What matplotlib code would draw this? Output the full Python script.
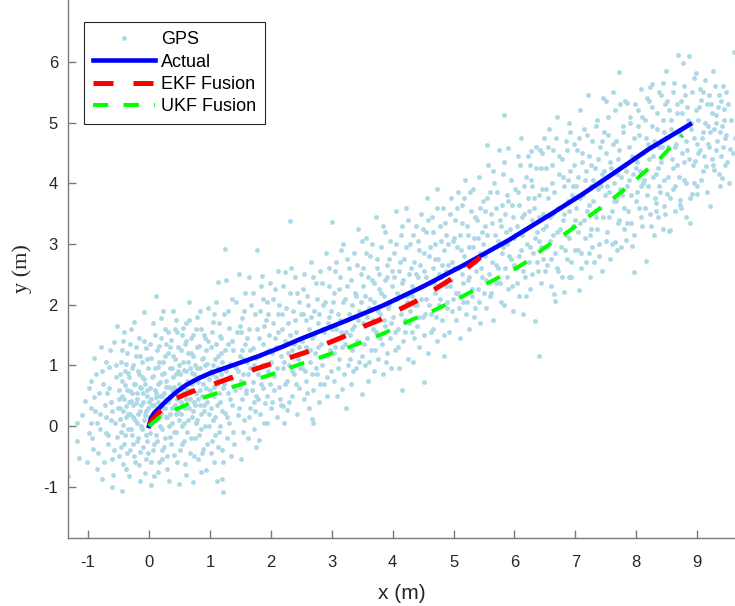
import matplotlib.pyplot as plt

plt.rcParams['font.family'] = ['Liberation Sans', 'DejaVu Sans']
plt.rcParams['axes.unicode_minus'] = False

gps_pts = [
    # x < -0.5
    (-1.33, -0.83), (-1.18, 0.05), (-1.19, -0.24), (-1.15, -0.53), (-1.10, 0.18),
    (-1.05, 0.42), (-0.98, -0.12), (-0.95, 0.75), (-0.92, -0.38), (-0.90, 1.12),
    (-0.88, 0.25), (-0.85, -0.70), (-0.82, 0.55), (-0.80, -0.05), (-0.78, 0.90),
    (-0.78, -0.87), (-0.72, 0.35), (-0.70, 1.05), (-0.68, -0.30), (-0.65, 0.62),
    (-0.62, 0.10), (-0.60, -0.55), (-0.58, 1.38), (-0.55, 0.80), (-0.53, -0.18),
    (-0.52, 1.65), (-0.50, 0.45), (-0.61, -1.01), (-0.60, 0.25), (-0.85, 0.05),
    (-0.95, 0.30), (-0.70, -0.12), (-0.66, 0.98), (-0.57, -0.40), (-0.45, -1.07),
    (-1.02, -0.60), (-0.99, 0.62), (-0.96, 0.05), (-0.93, -0.20), (-0.91, 0.48),
    (-0.87, 0.85), (-0.84, -0.45), (-0.81, 0.20), (-0.79, 1.30), (-0.76, 0.70),
    (-0.74, -0.60), (-0.71, 0.15), (-0.69, 0.55), (-0.67, -0.15), (-0.64, 1.25),
    (-0.63, 0.40), (-0.59, -0.80), (-0.56, 0.05), (-0.54, 1.00), (-0.51, 0.30),
    # -0.5 .. 0
    (-0.48, 0.12), (-0.47, 0.85), (-0.46, -0.35), (-0.45, 1.25), (-0.44, 0.50),
    (-0.43, -0.62), (-0.42, 0.02), (-0.41, 1.55), (-0.40, 0.68), (-0.39, -0.15),
    (-0.38, 0.33), (-0.37, 1.02), (-0.36, -0.45), (-0.35, 0.88), (-0.34, 0.20),
    (-0.33, -0.82), (-0.32, 0.58), (-0.31, 1.35), (-0.30, -0.05), (-0.29, 0.42),
    (-0.28, 0.95), (-0.27, -0.30), (-0.26, 0.15), (-0.25, 1.72), (-0.24, 0.70),
    (-0.23, -0.60), (-0.22, 0.38), (-0.21, 1.15), (-0.20, 0.05), (-0.19, 0.55),
    (-0.18, -0.20), (-0.17, 0.85), (-0.16, 1.45), (-0.15, 0.25), (-0.14, -0.42),
    (-0.13, 0.62), (-0.12, 1.05), (-0.11, -0.05), (-0.10, 0.40), (-0.09, 1.88),
    (-0.08, 0.78), (-0.07, -0.77), (-0.06, 0.18), (-0.05, 1.28), (-0.04, 0.50),
    (-0.03, -0.25), (-0.02, 0.95), (-0.01, 0.30), (-0.05, -0.55), (-0.15, -0.90),
    (-0.495, 0.60), (-0.485, -0.50), (-0.475, 0.30), (-0.465, 1.05), (-0.455, -0.10),
    (-0.445, 0.75), (-0.435, 0.25), (-0.425, 1.40), (-0.415, -0.30), (-0.405, 0.45),
    (-0.395, 0.90), (-0.385, -0.70), (-0.375, 0.15), (-0.365, 0.60), (-0.355, 1.20),
    (-0.345, -0.05), (-0.335, 0.40), (-0.325, 0.80), (-0.315, -0.40), (-0.305, 0.20),
    (-0.295, 1.60), (-0.285, 0.55), (-0.275, -0.15), (-0.265, 1.00), (-0.255, 0.35),
    (-0.245, -0.50), (-0.235, 0.70), (-0.225, 0.10), (-0.215, 1.30), (-0.205, -0.25),
    (-0.195, 0.45), (-0.185, 0.90), (-0.175, 0.20), (-0.165, -0.65), (-0.155, 0.65),
    (-0.145, 1.15), (-0.135, 0.00), (-0.125, 0.35), (-0.115, 0.80), (-0.105, -0.35),
    (-0.095, 0.55), (-0.085, 1.40), (-0.075, 0.10), (-0.065, 0.70), (-0.055, -0.15),
    (-0.045, 0.25), (-0.035, 1.10), (-0.025, 0.60), (-0.015, -0.45), (-0.005, 0.40),
    # 0 .. 0.5
    (0.01, 0.62), (0.02, -0.12), (0.03, -0.97), (0.04, 1.12), (0.05, 0.35),
    (0.06, -0.40), (0.07, 0.82), (0.08, -0.82), (0.09, 1.50), (0.10, 0.10),
    (0.11, 0.55), (0.12, 2.15), (0.13, -0.25), (0.14, 0.98), (0.15, 0.40),
    (0.16, 1.32), (0.17, -0.60), (0.18, 0.72), (0.19, 0.20), (0.20, 1.78),
    (0.21, -0.05), (0.22, 0.50), (0.23, 1.05), (0.24, -0.35), (0.25, 0.88),
    (0.26, 0.30), (0.27, 1.60), (0.28, 0.65), (0.29, -0.70), (0.30, 0.15),
    (0.31, 1.20), (0.32, -0.91), (0.33, 0.45), (0.34, 0.95), (0.35, -0.18),
    (0.36, 1.42), (0.37, 0.60), (0.38, 0.05), (0.39, 1.90), (0.40, 0.80),
    (0.41, -0.48), (0.42, 0.35), (0.43, 1.10), (0.44, 0.55), (0.45, -0.10),
    (0.46, 1.55), (0.47, 0.25), (0.48, 0.90), (0.49, -0.96), (0.50, 0.70),
    (0.22, -0.55), (0.35, 0.20), (0.12, 0.48), (0.44, 1.75), (0.28, 1.35),
    (0.005, 0.15), (0.015, 1.35), (0.025, 0.45), (0.035, -0.60), (0.045, 0.80),
    (0.055, 0.05), (0.065, 1.70), (0.075, 0.35), (0.085, -0.30), (0.095, 0.95),
    (0.105, 0.60), (0.115, -0.15), (0.125, 1.25), (0.135, 0.25), (0.145, -0.75),
    (0.155, 0.70), (0.165, 1.05), (0.175, 0.00), (0.185, 0.50), (0.195, 1.45),
    (0.205, -0.40), (0.215, 0.85), (0.225, 0.30), (0.235, 1.90), (0.245, 0.55),
    (0.255, -0.20), (0.265, 1.15), (0.275, 0.15), (0.285, 0.75), (0.295, -0.50),
    (0.305, 0.40), (0.315, 1.55), (0.325, 0.65), (0.335, 0.00), (0.345, 1.30),
    (0.355, 0.50), (0.365, -0.30), (0.375, 0.95), (0.385, 0.30), (0.395, 1.15),
    (0.405, -0.10), (0.415, 0.65), (0.425, 1.60), (0.435, 0.20), (0.445, 0.85),
    (0.455, -0.60), (0.465, 0.45), (0.475, 1.30), (0.485, 0.10), (0.495, 1.00),
    # 0.5 .. 1
    (0.52, 0.20), (0.53, 1.25), (0.54, -0.30), (0.55, 0.65), (0.56, 1.62),
    (0.57, 0.05), (0.58, 0.92), (0.59, -0.62), (0.60, 0.45), (0.61, 1.40),
    (0.62, 0.75), (0.63, -0.10), (0.64, 1.05), (0.65, 0.30), (0.66, 2.05),
    (0.67, -0.45), (0.68, 0.60), (0.69, 1.20), (0.70, 0.15), (0.71, 0.88),
    (0.72, -0.92), (0.73, 1.50), (0.74, 0.40), (0.75, -0.20), (0.76, 1.00),
    (0.77, 0.55), (0.78, 1.80), (0.79, 0.10), (0.80, 0.72), (0.81, -0.55),
    (0.82, 1.32), (0.83, 0.35), (0.84, 0.95), (0.85, -0.05), (0.86, 1.60),
    (0.87, 0.50), (0.88, 1.12), (0.89, -0.38), (0.90, 0.82), (0.91, 0.25),
    (0.92, 1.45), (0.93, 0.62), (0.94, -0.72), (0.95, 1.02), (0.96, 0.40),
    (0.97, 1.95), (0.98, 0.00), (0.99, 0.78), (0.60, 1.70), (0.85, -0.75),
    (0.505, -0.40), (0.515, 0.85), (0.525, 0.40), (0.535, 1.50), (0.545, 0.00),
    (0.555, 1.05), (0.565, 0.55), (0.575, -0.25), (0.585, 1.35), (0.595, 0.30),
    (0.605, 0.90), (0.615, -0.80), (0.625, 0.60), (0.635, 1.20), (0.645, 0.10),
    (0.655, 1.75), (0.665, 0.45), (0.675, 0.95), (0.685, -0.20), (0.695, 1.45),
    (0.705, 0.70), (0.715, 0.25), (0.725, 1.15), (0.735, -0.50), (0.745, 0.85),
    (0.755, 0.35), (0.765, 1.60), (0.775, 0.05), (0.785, 0.95), (0.795, 1.30),
    (0.805, 0.45), (0.815, -0.15), (0.825, 0.80), (0.835, 1.90), (0.845, 0.60),
    (0.855, 0.20), (0.865, 1.10), (0.875, -0.45), (0.885, 0.70), (0.895, 1.50),
    (0.905, 0.35), (0.915, 1.00), (0.925, 0.00), (0.935, 1.25), (0.945, 0.50),
    (0.955, -0.30), (0.965, 0.85), (0.975, 1.40), (0.985, 0.20), (0.995, 0.60),
    # 1 .. 1.5
    (1.01, 0.30), (1.02, 1.30), (1.03, -0.25), (1.04, 0.85), (1.05, 1.72),
    (1.06, 0.50), (1.07, -0.60), (1.08, 1.10), (1.09, 0.15), (1.10, 2.05),
    (1.11, -0.91), (1.12, 0.70), (1.13, 2.38), (1.14, 0.95), (1.15, -0.10),
    (1.16, 1.48), (1.17, 0.40), (1.18, 1.20), (1.19, -0.40), (1.20, -0.88),
    (1.21, 0.62), (1.22, -1.08), (1.23, 1.85), (1.24, 0.22), (1.25, 2.92),
    (1.26, 2.40), (1.27, 0.90), (1.28, -0.20), (1.29, 1.35), (1.30, 0.55),
    (1.31, 1.62), (1.32, 0.05), (1.33, 1.02), (1.34, -0.50), (1.35, 0.78),
    (1.36, 2.10), (1.37, 0.35), (1.38, 1.25), (1.40, -0.30), (1.42, 0.95),
    (1.44, 1.55), (1.46, 0.18), (1.48, 2.51), (1.49, 0.65), (1.50, 1.15),
    (1.015, 0.90), (1.025, -0.45), (1.035, 1.55), (1.045, 0.10), (1.055, 1.00),
    (1.065, 0.65), (1.075, 1.85), (1.085, -0.15), (1.095, 0.80), (1.105, 1.35),
    (1.115, 0.35), (1.125, -0.35), (1.135, 1.15), (1.145, 0.55), (1.155, 1.70),
    (1.165, 0.00), (1.175, 0.85), (1.185, 1.45), (1.195, 0.25), (1.205, 1.05),
    (1.215, -0.60), (1.235, 0.70), (1.255, 1.25), (1.275, 0.15), (1.295, 1.90),
    (1.315, 0.80), (1.335, 0.45), (1.355, 1.40), (1.375, -0.10), (1.395, 1.00),
    (1.415, 0.60), (1.435, 2.05), (1.455, 0.90), (1.475, 0.30), (1.495, 1.65),
    # 1.5 .. 2
    (1.51, -0.54), (1.52, 0.45), (1.53, 1.78), (1.54, 0.85), (1.56, 0.10),
    (1.57, 1.35), (1.58, 2.20), (1.60, 0.60), (1.61, 1.05), (1.62, -0.20),
    (1.64, 1.60), (1.65, 0.30), (1.66, 0.95), (1.68, 2.00), (1.70, 0.72),
    (1.71, 1.28), (1.72, -0.05), (1.74, 1.85), (1.75, 0.50), (1.76, 1.12),
    (1.78, 2.90), (1.79, 0.85), (1.80, -0.23), (1.81, 1.45), (1.83, 0.20),
    (1.84, 2.30), (1.85, 1.00), (1.86, 2.47), (1.87, 0.62), (1.89, 1.65),
    (1.90, 0.38), (1.92, 1.22), (1.93, 2.05), (1.94, 0.05), (1.96, 0.90),
    (1.97, 1.50), (1.99, 0.70), (1.55, 1.10), (1.73, 0.40), (1.95, 1.85),
    (1.505, 0.75), (1.525, 1.25), (1.545, -0.10), (1.565, 1.90), (1.585, 0.55),
    (1.605, 1.45), (1.625, 0.85), (1.645, 0.15), (1.665, 1.25), (1.685, 0.60),
    (1.705, 2.20), (1.725, 1.00), (1.745, 0.25), (1.765, 1.60), (1.785, 0.45),
    (1.805, 1.15), (1.825, 1.90), (1.845, 0.70), (1.865, 1.35), (1.885, 0.05),
    (1.905, 1.00), (1.925, 1.75), (1.945, 0.50), (1.965, 1.25), (1.985, 2.35),
    (1.515, 1.55), (1.635, 2.45), (1.755, -0.35), (1.875, 2.10), (1.995, 0.30),
    # 2 .. 2.5
    (2.01, 1.05), (2.02, 0.40), (2.04, 1.70), (2.05, 0.82), (2.07, 2.25),
    (2.08, 1.30), (2.10, 0.15), (2.11, 1.55), (2.13, 0.65), (2.14, 2.00),
    (2.16, 1.15), (2.17, 0.35), (2.19, 1.85), (2.20, 0.95), (2.22, 0.05),
    (2.23, 2.53), (2.24, 1.40), (2.26, 0.75), (2.27, 0.26), (2.28, 1.70),
    (2.30, 1.00), (2.31, 3.38), (2.32, 2.20), (2.34, 0.50), (2.35, 1.25),
    (2.37, 1.90), (2.38, 0.85), (2.40, 2.45), (2.41, 1.55), (2.43, 0.20),
    (2.44, 1.10), (2.46, 2.05), (2.47, 0.62), (2.49, 1.42), (2.12, 2.55),
    (2.20, 0.33),
    (2.015, 1.20), (2.035, 2.10), (2.055, 0.60), (2.075, 1.45), (2.095, 0.95),
    (2.115, 1.85), (2.135, 1.30), (2.155, 0.45), (2.175, 1.60), (2.195, 2.30),
    (2.215, 1.05), (2.235, 0.70), (2.255, 1.95), (2.275, 1.20), (2.295, 0.40),
    (2.315, 1.50), (2.335, 2.60), (2.355, 0.90), (2.375, 1.35), (2.395, 1.75),
    (2.415, 0.70), (2.435, 2.20), (2.455, 1.30), (2.475, 0.95), (2.495, 1.85),
    # 2.5 .. 3
    (2.51, 0.95), (2.52, 1.85), (2.54, 0.45), (2.55, 2.50), (2.57, 1.30),
    (2.58, 0.75), (2.60, 2.15), (2.62, 1.60), (2.63, 0.30), (2.65, 1.05),
    (2.66, 2.70), (2.68, 1.45), (2.70, 0.60), (2.71, 1.90), (2.73, 1.20),
    (2.74, 2.35), (2.76, 0.85), (2.78, 1.70), (2.79, 0.40), (2.81, 2.55),
    (2.82, 1.35), (2.84, 1.00), (2.85, 2.00), (2.87, 0.70), (2.88, 1.55),
    (2.90, 2.85), (2.92, 1.15), (2.93, 0.50), (2.95, 1.80), (2.96, 2.30),
    (2.98, 1.40), (2.99, 0.90), (2.68, 0.12), (2.69, 0.05),
    (2.515, 1.40), (2.535, 2.25), (2.555, 0.90), (2.575, 1.75), (2.595, 0.55),
    (2.615, 2.00), (2.635, 1.25), (2.655, 1.80), (2.675, 0.85), (2.695, 2.45),
    (2.715, 1.50), (2.735, 0.95), (2.755, 2.10), (2.775, 1.30), (2.795, 1.85),
    (2.815, 0.70), (2.835, 2.35), (2.855, 1.60), (2.875, 1.15), (2.895, 2.05),
    (2.915, 0.80), (2.935, 1.70), (2.955, 2.60), (2.975, 1.25), (2.995, 1.90),
    # 3 .. 3.5
    (3.00, 3.37), (3.01, 1.60), (3.03, 0.75), (3.04, 2.20), (3.06, 1.30),
    (3.07, 2.70), (3.09, 0.50), (3.10, 1.85), (3.12, 1.10), (3.13, 2.45),
    (3.15, 1.55), (3.16, 0.61), (3.18, 2.05), (3.19, 3.00), (3.21, 1.35),
    (3.24, 0.30), (3.24, 1.75), (3.25, 2.30), (3.27, 1.00), (3.28, 2.60),
    (3.30, 1.50), (3.31, 0.70), (3.33, 2.00), (3.34, 1.25), (3.36, 2.85),
    (3.37, 1.65), (3.39, 0.95), (3.40, 2.15), (3.42, 1.40), (3.43, 3.25),
    (3.45, 1.90), (3.49, 0.53), (3.48, 2.50), (3.49, 1.15),
    (3.015, 2.05), (3.035, 1.20), (3.055, 2.55), (3.075, 1.60), (3.095, 0.95),
    (3.115, 2.25), (3.135, 1.75), (3.155, 2.90), (3.175, 1.30), (3.195, 0.85),
    (3.215, 2.10), (3.235, 1.55), (3.255, 2.75), (3.275, 1.85), (3.295, 1.10),
    (3.315, 2.40), (3.335, 1.60), (3.355, 0.90), (3.375, 2.20), (3.395, 1.35),
    (3.415, 2.65), (3.435, 1.75), (3.455, 1.05), (3.475, 2.05), (3.495, 3.05),
    # 3.5 .. 4
    (3.51, 1.70), (3.52, 2.60), (3.54, 1.00), (3.55, 2.15), (3.57, 3.10),
    (3.58, 1.45), (3.60, 0.75), (3.61, 1.95), (3.63, 2.80), (3.64, 1.25),
    (3.66, 2.40), (3.67, 1.75), (3.69, 0.90), (3.70, 2.05), (3.72, 3.45),
    (3.73, 1.55), (3.75, 2.60), (3.76, 1.10), (3.78, 2.25), (3.79, 1.85),
    (3.81, 2.95), (3.82, 1.35), (3.84, 0.85), (3.85, 2.15), (3.87, 1.65),
    (3.88, 3.20), (3.90, 2.45), (3.91, 1.20), (3.93, 1.95), (3.94, 2.75),
    (3.96, 1.45), (3.97, 0.95), (3.99, 2.30),
    (3.515, 2.30), (3.535, 1.35), (3.555, 2.85), (3.575, 1.80), (3.595, 2.45),
    (3.615, 1.05), (3.635, 2.10), (3.655, 3.00), (3.675, 1.60), (3.695, 2.35),
    (3.715, 1.25), (3.735, 2.75), (3.755, 1.90), (3.775, 2.50), (3.795, 1.45),
    (3.815, 2.20), (3.835, 3.30), (3.855, 1.75), (3.875, 2.40), (3.895, 1.05),
    (3.915, 2.65), (3.935, 2.00), (3.955, 3.05), (3.975, 1.70), (3.995, 2.55),
    # 4 .. 4.5
    (4.01, 1.80), (4.02, 2.85), (4.04, 1.25), (4.05, 3.55), (4.07, 2.10),
    (4.08, 1.60), (4.10, 2.55), (4.11, 0.95), (4.13, 1.95), (4.14, 3.15),
    (4.16, 0.59), (4.16, 2.35), (4.17, 1.40), (4.19, 2.75), (4.20, 1.75),
    (4.22, 3.60), (4.23, 2.15), (4.25, 1.10), (4.26, 2.50), (4.28, 1.90),
    (4.29, 3.00), (4.31, 1.55), (4.32, 2.30), (4.34, 1.05), (4.35, 2.70),
    (4.37, 2.00), (4.38, 3.30), (4.40, 1.65), (4.41, 2.45), (4.43, 1.30),
    (4.44, 2.90), (4.46, 2.10), (4.47, 3.50), (4.49, 1.80),
    (4.015, 2.45), (4.035, 1.55), (4.055, 3.00), (4.075, 2.20), (4.095, 1.30),
    (4.115, 2.70), (4.135, 1.85), (4.155, 3.30), (4.175, 2.40), (4.195, 1.55),
    (4.215, 2.95), (4.235, 2.05), (4.255, 3.40), (4.275, 1.70), (4.295, 2.60),
    (4.315, 2.15), (4.335, 3.15), (4.355, 1.45), (4.375, 2.50), (4.395, 2.00),
    (4.415, 3.05), (4.435, 1.80), (4.455, 2.65), (4.475, 2.30), (4.495, 3.25),
    # 4.5 .. 5
    (4.51, 0.73), (4.51, 2.55), (4.52, 1.50), (4.54, 3.20), (4.55, 2.10),
    (4.57, 3.75), (4.58, 1.20), (4.60, 2.80), (4.61, 2.35), (4.63, 1.85),
    (4.64, 3.45), (4.66, 2.60), (4.67, 1.60), (4.69, 3.00), (4.70, 2.20),
    (4.72, 3.90), (4.73, 1.40), (4.75, 2.75), (4.76, 2.00), (4.78, 3.30),
    (4.79, 2.45), (4.81, 1.75), (4.82, 3.60), (4.84, 2.90), (4.85, 1.15),
    (4.87, 2.30), (4.88, 3.15), (4.90, 2.05), (4.91, 2.65), (4.93, 1.55),
    (4.94, 3.50), (4.96, 2.40), (4.97, 1.90), (4.99, 3.05),
    (4.515, 2.85), (4.535, 1.85), (4.555, 2.45), (4.575, 3.40), (4.595, 2.00),
    (4.615, 2.95), (4.635, 1.55), (4.655, 3.20), (4.675, 2.35), (4.695, 2.75),
    (4.715, 1.80), (4.735, 3.60), (4.755, 2.50), (4.775, 2.10), (4.795, 3.05),
    (4.815, 2.65), (4.835, 1.50), (4.855, 3.35), (4.875, 2.55), (4.895, 1.95),
    (4.915, 3.00), (4.935, 2.30), (4.955, 3.75), (4.975, 2.70), (4.995, 2.10),
    # 5 .. 5.5
    (5.01, 2.60), (5.02, 3.40), (5.04, 1.75), (5.05, 2.95), (5.07, 3.85),
    (5.08, 2.20), (5.10, 1.45), (5.11, 3.15), (5.13, 2.50), (5.14, 3.65),
    (5.16, 2.05), (5.17, 2.80), (5.19, 4.05), (5.20, 1.85), (5.22, 3.30),
    (5.23, 2.40), (5.25, 2.95), (5.26, 1.60), (5.28, 3.55), (5.29, 2.70),
    (5.31, 2.15), (5.32, 3.90), (5.34, 3.10), (5.35, 1.95), (5.37, 2.55),
    (5.38, 3.40), (5.40, 2.25), (5.41, 4.10), (5.43, 2.85), (5.44, 1.70),
    (5.46, 3.20), (5.47, 2.45), (5.49, 3.70),
    (5.015, 3.10), (5.035, 2.20), (5.055, 3.60), (5.075, 2.60), (5.095, 1.95),
    (5.115, 2.90), (5.135, 3.35), (5.155, 2.35), (5.175, 3.75), (5.195, 2.65),
    (5.215, 2.05), (5.235, 3.15), (5.255, 2.45), (5.275, 3.85), (5.295, 2.25),
    (5.315, 2.95), (5.335, 1.80), (5.355, 3.45), (5.375, 2.70), (5.395, 3.10),
    (5.415, 2.05), (5.435, 3.60), (5.455, 2.60), (5.475, 3.00), (5.495, 2.20),
    # 5.5 .. 6
    (5.51, 2.80), (5.52, 3.55), (5.54, 1.95), (5.55, 3.15), (5.57, 4.30),
    (5.58, 2.50), (5.60, 3.85), (5.61, 2.20), (5.63, 3.35), (5.64, 1.75),
    (5.66, 2.95), (5.67, 4.00), (5.69, 2.65), (5.70, 3.60), (5.55, 4.63),
    (5.73, 3.05), (5.75, 4.55), (5.76, 2.35), (5.78, 3.30), (5.79, 2.85),
    (5.81, 4.15), (5.82, 5.13), (5.84, 3.50), (5.85, 2.60), (5.87, 3.80),
    (5.88, 3.00), (5.90, 2.25), (5.90, 4.58), (5.93, 3.25), (5.94, 2.75),
    (5.96, 3.65), (5.97, 1.90), (5.99, 3.10), (5.82, 2.00),
    (5.515, 3.30), (5.535, 2.40), (5.555, 3.75), (5.575, 2.90), (5.595, 2.15),
    (5.615, 3.50), (5.635, 2.70), (5.655, 4.20), (5.675, 3.15), (5.695, 2.35),
    (5.715, 3.85), (5.735, 2.60), (5.755, 3.40), (5.775, 2.05), (5.795, 3.65),
    (5.815, 2.95), (5.835, 4.35), (5.855, 3.20), (5.875, 2.45), (5.895, 3.70),
    (5.915, 2.80), (5.935, 4.05), (5.955, 2.30), (5.975, 3.45), (5.995, 2.65),
    # 6 .. 6.5
    (6.01, 3.90), (6.02, 2.60), (6.04, 3.30), (6.05, 4.45), (6.07, 2.15),
    (6.08, 3.65), (6.10, 2.90), (6.11, 4.75), (6.13, 3.15), (6.14, 1.85),
    (6.16, 3.50), (6.17, 2.45), (6.19, 4.10), (6.20, 3.00), (6.22, 3.75),
    (6.23, 2.70), (6.25, 4.30), (6.26, 2.25), (6.28, 3.40), (6.29, 3.95),
    (6.31, 2.85), (6.32, 3.60), (6.34, 1.73), (6.35, 4.60), (6.37, 3.20),
    (6.38, 2.55), (6.40, 3.80), (6.41, 3.05), (6.43, 4.25), (6.44, 2.35),
    (6.46, 3.50), (6.47, 2.75), (6.49, 4.74), (6.40, 1.15), (6.27, 4.53),
    (6.45, 4.50),
    (6.015, 3.15), (6.035, 2.35), (6.055, 3.85), (6.075, 2.80), (6.095, 4.30),
    (6.115, 3.45), (6.135, 2.55), (6.155, 3.95), (6.175, 3.25), (6.195, 2.15),
    (6.215, 4.45), (6.235, 3.55), (6.255, 2.95), (6.275, 4.05), (6.295, 2.50),
    (6.315, 3.75), (6.335, 3.10), (6.355, 4.25), (6.375, 2.70), (6.395, 3.45),
    (6.415, 4.55), (6.435, 2.95), (6.455, 3.90), (6.475, 3.25), (6.495, 2.55),
    # 6.5 .. 7
    (6.51, 3.30), (6.52, 4.25), (6.54, 2.65), (6.55, 3.75), (6.57, 4.90),
    (6.58, 3.05), (6.60, 2.30), (6.61, 4.00), (6.63, 3.50), (6.64, 4.55),
    (6.66, 2.85), (6.67, 2.06), (6.69, 3.20), (6.70, 5.10), (6.72, 2.55),
    (6.73, 4.15), (6.75, 3.60), (6.76, 2.95), (6.78, 4.40), (6.79, 3.40),
    (6.81, 2.21), (6.82, 3.95), (6.84, 4.70), (6.85, 3.15), (6.87, 2.75),
    (6.88, 4.05), (6.89, 2.45), (6.90, 3.55), (6.91, 4.85), (6.93, 2.45),
    (6.94, 3.80), (6.96, 3.30), (6.97, 4.30), (6.99, 2.90), (6.65, 2.17),
    (6.89, 5.00),
    (6.515, 3.90), (6.535, 2.95), (6.555, 4.60), (6.575, 3.45), (6.595, 2.75),
    (6.615, 4.30), (6.635, 3.15), (6.655, 3.85), (6.675, 4.75), (6.695, 2.60),
    (6.715, 3.60), (6.735, 4.45), (6.755, 3.25), (6.775, 2.45), (6.795, 4.10),
    (6.815, 3.50), (6.835, 2.90), (6.855, 4.55), (6.875, 3.70), (6.895, 3.10),
    (6.915, 4.20), (6.935, 2.70), (6.955, 3.95), (6.975, 4.65), (6.995, 3.40),
    # 7 .. 7.5
    (7.01, 3.60), (7.02, 4.55), (7.04, 2.90), (7.05, 4.10), (7.06, 2.24),
    (7.07, 5.20), (7.08, 3.35), (7.10, 2.60), (7.11, 4.35), (7.13, 3.80),
    (7.14, 4.90), (7.16, 3.10), (7.17, 4.20), (7.19, 3.55), (7.20, 5.45),
    (7.22, 2.85), (7.23, 4.45), (7.24, 2.45), (7.25, 3.95), (7.26, 3.25),
    (7.28, 4.70), (7.29, 3.70), (7.31, 2.70), (7.32, 4.25), (7.34, 3.45),
    (7.35, 5.05), (7.37, 3.90), (7.38, 3.00), (7.40, 4.60), (7.41, 3.60),
    (7.43, 2.55), (7.44, 4.15), (7.46, 5.40), (7.47, 4.85), (7.49, 3.80),
    (7.50, 5.35),
    (7.015, 3.95), (7.035, 3.20), (7.055, 4.75), (7.075, 3.75), (7.095, 2.85),
    (7.115, 4.50), (7.135, 3.40), (7.155, 4.05), (7.175, 2.70), (7.195, 4.80),
    (7.215, 3.65), (7.235, 3.15), (7.255, 4.30), (7.275, 2.95), (7.295, 4.05),
    (7.315, 3.55), (7.335, 4.95), (7.355, 3.25), (7.375, 4.40), (7.395, 2.80),
    (7.415, 3.95), (7.435, 4.70), (7.455, 3.45), (7.475, 4.20), (7.495, 3.05),
    # 7.5 .. 8
    (7.51, 4.50), (7.52, 3.20), (7.54, 5.10), (7.55, 3.85), (7.57, 2.75),
    (7.58, 4.25), (7.60, 3.55), (7.61, 5.50), (7.63, 4.00), (7.65, 3.04),
    (7.66, 4.70), (7.67, 3.70), (7.69, 2.90), (7.70, 4.40), (7.71, 5.84),
    (7.72, 3.40), (7.73, 5.30), (7.75, 4.10), (7.76, 3.80), (7.78, 4.85),
    (7.79, 3.25), (7.81, 4.30), (7.83, 3.07), (7.84, 5.33), (7.85, 3.95),
    (7.87, 3.55), (7.88, 4.60), (7.90, 5.00), (7.91, 3.35), (7.93, 2.97),
    (7.94, 4.15), (7.96, 2.54), (7.97, 4.75), (7.99, 3.70),
    (7.515, 3.95), (7.535, 4.80), (7.555, 3.45), (7.575, 4.35), (7.595, 3.00),
    (7.615, 4.65), (7.635, 3.70), (7.655, 5.20), (7.675, 4.15), (7.695, 3.35),
    (7.715, 4.55), (7.735, 3.90), (7.755, 2.95), (7.775, 4.95), (7.795, 3.60),
    (7.815, 5.35), (7.835, 4.20), (7.855, 3.35), (7.875, 4.05), (7.895, 5.10),
    (7.915, 3.80), (7.935, 4.45), (7.955, 3.15), (7.975, 5.30), (7.995, 4.25),
    # 8 .. 8.5
    (8.01, 4.35), (8.02, 5.20), (8.04, 3.60), (8.05, 4.80), (8.07, 3.95),
    (8.08, 5.55), (8.10, 3.30), (8.11, 4.50), (8.13, 4.05), (8.14, 5.05),
    (8.16, 2.72), (8.17, 3.80), (8.19, 4.65), (8.20, 5.35), (8.22, 3.50),
    (8.23, 5.59), (8.25, 4.95), (8.26, 5.63), (8.28, 4.45), (8.29, 3.15),
    (8.31, 3.75), (8.32, 4.15), (8.33, 3.67), (8.34, 5.15), (8.35, 3.45),
    (8.37, 4.60), (8.38, 3.95), (8.40, 5.45), (8.41, 4.35), (8.43, 3.25),
    (8.44, 5.66), (8.45, 3.62), (8.46, 4.85), (8.47, 5.30), (8.49, 5.85),
    (8.50, 3.83),
    (8.015, 3.85), (8.035, 4.95), (8.055, 4.20), (8.075, 3.45), (8.095, 5.10),
    (8.115, 4.00), (8.135, 3.60), (8.155, 4.75), (8.175, 5.40), (8.195, 3.95),
    (8.215, 4.40), (8.235, 3.30), (8.255, 5.25), (8.275, 4.10), (8.295, 4.70),
    (8.315, 3.55), (8.335, 4.90), (8.355, 4.25), (8.375, 5.50), (8.395, 3.85),
    (8.415, 4.60), (8.435, 5.05), (8.455, 4.05), (8.475, 3.50), (8.495, 4.75),
    # 8.5 .. 9
    (8.51, 5.36), (8.52, 4.10), (8.54, 3.21), (8.55, 3.23), (8.57, 5.05),
    (8.58, 4.40), (8.60, 3.90), (8.61, 5.50), (8.63, 4.60), (8.64, 3.55),
    (8.66, 5.15), (8.67, 4.30), (8.69, 6.12), (8.70, 4.85), (8.72, 3.73),
    (8.73, 5.36), (8.75, 4.50), (8.76, 5.98), (8.78, 4.05), (8.79, 5.60),
    (8.81, 4.70), (8.82, 3.45), (8.84, 5.25), (8.86, 6.10), (8.87, 4.40),
    (8.88, 3.34), (8.90, 5.00), (8.92, 3.83), (8.94, 4.00), (8.95, 5.73),
    (8.97, 4.37), (8.98, 5.81), (8.99, 4.65), (8.72, 3.64),
    (8.515, 4.60), (8.535, 5.20), (8.555, 3.75), (8.575, 4.90), (8.595, 4.25),
    (8.615, 5.65), (8.635, 3.95), (8.655, 4.65), (8.675, 5.30), (8.695, 4.10),
    (8.715, 4.80), (8.735, 3.60), (8.755, 5.15), (8.775, 4.35), (8.795, 5.45),
    (8.815, 4.00), (8.835, 4.55), (8.855, 5.05), (8.875, 3.75), (8.895, 4.90),
    (8.915, 5.50), (8.935, 4.30), (8.955, 4.75), (8.975, 5.20), (8.995, 3.95),
    # 9 .. 9.65
    (9.00, 3.82), (9.02, 5.05), (9.04, 4.55), (9.05, 5.55), (9.07, 5.37),
    (9.09, 4.20), (9.10, 4.85), (9.12, 5.70), (9.14, 4.28), (9.16, 5.30),
    (9.18, 4.95), (9.20, 4.60), (9.21, 3.62), (9.22, 5.30), (9.24, 4.40),
    (9.26, 5.85), (9.28, 4.22), (9.30, 5.00), (9.31, 5.12), (9.33, 4.70),
    (9.35, 5.45), (9.37, 3.95), (9.39, 4.45), (9.40, 4.94), (9.41, 4.09),
    (9.43, 5.60), (9.44, 5.22), (9.46, 4.30), (9.48, 4.80), (9.50, 5.30),
    (9.52, 4.00), (9.54, 4.57), (9.56, 5.05), (9.58, 4.50), (9.60, 6.17),
    (9.62, 4.75),
    (9.015, 4.50), (9.035, 5.25), (9.055, 4.05), (9.075, 4.75), (9.095, 5.50),
    (9.115, 4.45), (9.135, 5.00), (9.155, 3.85), (9.175, 4.65), (9.195, 5.45),
    (9.215, 4.85), (9.235, 5.15), (9.255, 4.30), (9.275, 4.90), (9.295, 5.60),
    (9.315, 4.55), (9.335, 5.25), (9.355, 4.15), (9.375, 4.85), (9.395, 5.35),
    (9.415, 4.60), (9.435, 5.05), (9.455, 4.75), (9.475, 5.50), (9.495, 4.35),
]

# ---- true path and filter estimates -----------------------------------------
actual_x = [0, 0.03, 0.08, 0.18, 0.3, 0.45, 0.6, 0.8, 1.0, 1.2, 1.4, 1.6, 1.82,
            2.2, 2.5, 3.2, 3.85, 4.5, 5.22, 5.9, 6.58, 7.1, 7.62, 8.2, 8.88]
actual_y = [0, 0.12, 0.21, 0.31, 0.43, 0.56, 0.67, 0.78, 0.87, 0.94, 1.01, 1.08, 1.16,
            1.31, 1.44, 1.72, 1.99, 2.3, 2.68, 3.06, 3.48, 3.81, 4.16, 4.56, 4.97]

ekf_x = [0, 0.05, 0.18, 0.45, 0.76, 1.06, 1.36, 1.69, 1.99, 2.32, 2.59, 2.92,
         3.19, 3.52, 3.79, 4.09, 4.37, 4.67, 4.91, 5.22, 5.44]
ekf_y = [0, 0.1, 0.24, 0.46, 0.59, 0.69, 0.80, 0.92, 1.02, 1.13, 1.22, 1.36,
         1.47, 1.64, 1.75, 1.91, 2.05, 2.24, 2.39, 2.60, 2.78]

ukf_x = [0, 0.18, 0.43, 0.87, 1.08, 1.36, 1.55, 1.82, 2.01, 2.29, 2.48, 2.73,
         2.92, 3.19, 3.41, 3.65, 3.88, 4.12, 4.31, 4.56, 4.75, 5.0, 5.19, 5.44,
         5.63, 5.87, 6.06, 6.28, 6.47, 6.70, 6.89, 7.08, 7.27, 7.49, 7.67, 7.87,
         8.05, 8.23, 8.41, 8.58, 8.76]
ukf_y = [0, 0.15, 0.27, 0.46, 0.53, 0.64, 0.70, 0.79, 0.85, 0.95, 1.02, 1.10,
         1.17, 1.26, 1.35, 1.44, 1.54, 1.66, 1.75, 1.85, 1.94, 2.06, 2.16, 2.29,
         2.39, 2.52, 2.62, 2.76, 2.92, 3.08, 3.21, 3.35, 3.49, 3.65, 3.79, 3.95,
         4.11, 4.27, 4.43, 4.61, 4.79]

gps_x = [p[0] for p in gps_pts]
gps_y = [p[1] for p in gps_pts]

# ---- plot -------------------------------------------------------------------
fig = plt.figure(figsize=(7.35, 6.06), dpi=100)
ax = fig.add_axes([67.7 / 735, 68 / 606, (735 - 67.7) / 735, 538 / 606])

ax.plot(gps_x, gps_y, 'o', ms=3.5, color='#add8e6', mec='none', label='GPS')
ax.plot(actual_x, actual_y, color='#0000ff', lw=3.3, label='Actual')
ax.plot(ekf_x, ekf_y, color='#ff0000', lw=3.6, ls=(0, (4, 4)),
        dash_capstyle='butt', label='EKF Fusion')
ax.plot(ukf_x, ukf_y, color='#00ff00', lw=2.9, ls=(0, (3.8, 3.8)),
        dash_capstyle='butt', label='UKF Fusion')

ax.set_xlim(-1.335, 9.62)
ax.set_ylim(-1.845, 7.02)
ax.set_xticks(range(-1, 10))
ax.set_yticks(range(-1, 7))

for s in ['top', 'right']:
    ax.spines[s].set_visible(False)
for s in ['left', 'bottom']:
    ax.spines[s].set_color('#7a7a7a')
    ax.spines[s].set_linewidth(1.0)
ax.tick_params(direction='in', length=5.5, width=1.0, color='#7a7a7a',
               labelcolor='#262626', labelsize=12)
ax.tick_params(axis='x', pad=12)
ax.tick_params(axis='y', pad=7)

ax.set_xlabel('x (m)', fontsize=15, color='#262626')
ax.xaxis.set_label_coords(0.5, -0.086)
ax.set_ylabel('y (m)', fontsize=16, color='#262626', family='Liberation Serif')
ax.yaxis.set_label_coords(-0.053, 0.5)

leg = ax.legend(loc='upper left', bbox_to_anchor=(0.024, 0.959), borderaxespad=0,
                fontsize=13, handlelength=3.45, handletextpad=0.33, borderpad=0.5,
                labelspacing=0.3, fancybox=False, framealpha=1)
leg.get_frame().set_edgecolor('#262626')
leg.get_frame().set_linewidth(0.8)

fig.savefig('out.png', dpi=100)
